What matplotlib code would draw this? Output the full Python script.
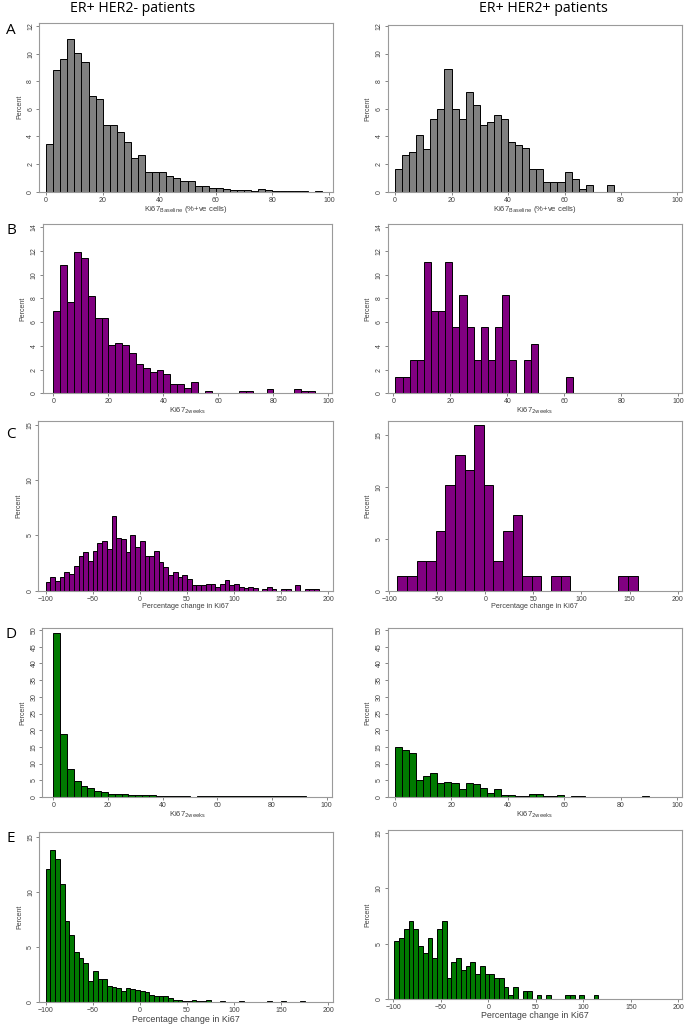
import numpy as np
import matplotlib
matplotlib.use("Agg")
import matplotlib.pyplot as plt

# ---------------- data (percent per bin) ----------------
# Panel A: Ki67 baseline, bins of width 2.5
A_left_start, A_left_width = 0.0, 2.5
A_left = [3.47, 8.8, 9.6, 11.03, 10.08, 9.4, 6.9, 6.74, 4.85, 4.85, 4.34, 3.6, 2.47, 2.64,
          1.43, 1.43, 1.41, 1.14, 1.02, 0.78, 0.78, 0.44, 0.39, 0.27, 0.27, 0.17, 0.12, 0.1,
          0.15, 0.05, 0.17, 0.12, 0.05, 0.05, 0.05, 0.05, 0.02, 0.0, 0.07, 0.0]
A_right_start, A_right_width = 0.0, 2.5
A_right = [1.65, 2.64, 2.88, 4.1, 3.1, 5.28, 6.01, 8.92, 6.01, 5.28, 7.25, 6.25, 4.8, 5.04,
           5.53, 5.28, 3.61, 3.37, 3.13, 1.65, 1.65, 0.68, 0.68, 0.68, 1.43, 0.95, 0.22, 0.46,
           0.0, 0.0, 0.46]

# Panel B: Ki67 at 2 weeks
B_left_start, B_left_width = 0.0, 2.5
B_left = [6.9, 10.8, 7.7, 11.95, 11.4, 8.2, 6.38, 6.38, 4.1, 4.27, 4.1, 3.42, 2.46, 2.12,
          1.78, 1.98, 1.61, 0.79, 0.79, 0.48, 0.99, 0.0, 0.17, 0.0, 0.0, 0.0, 0.0, 0.17, 0.17,
          0.0, 0.0, 0.33, 0.0, 0.0, 0.0, 0.33, 0.17, 0.17]
B_right_start, B_right_width = 0.7, 2.5
B_right = [1.39, 1.39, 2.78, 2.78, 11.11, 6.94, 6.94, 11.11, 5.56, 8.33, 5.56, 2.78, 5.56,
           2.78, 5.56, 8.33, 2.78, 0.0, 2.78, 4.17, 0.0, 0.0, 0.0, 0.0, 1.39]

# Panel C: percentage change in Ki67
C_left_start, C_left_width = -100.0, 5.0
C_left = [0.8, 1.2, 0.9, 1.2, 1.7, 1.5, 2.2, 3.1, 3.5, 2.7, 3.6, 4.3, 4.5, 3.8, 6.8, 4.8,
          4.7, 3.5, 5.0, 4.0, 4.5, 3.1, 3.1, 3.6, 2.6, 2.1, 1.4, 1.7, 1.2, 1.4, 1.05, 0.5,
          0.5, 0.5, 0.65, 0.65, 0.3, 0.65, 1.0, 0.5, 0.65, 0.35, 0.2, 0.35, 0.2, 0.0, 0.15,
          0.35, 0.15, 0.0, 0.15, 0.15, 0.0, 0.5, 0.0, 0.15, 0.15, 0.15]
C_right_start, C_right_width = -91.7, 10.0
C_right = [1.45, 1.45, 2.9, 2.9, 5.8, 10.14, 13.04, 11.59, 15.94, 10.14, 2.9, 5.8, 7.25,
           1.45, 1.45, 0.0, 1.45, 1.45, 0.0, 0.0, 0.0, 0.0, 0.0, 1.45, 1.45]

# Panel D: Ki67 at 2 weeks
D_left_start, D_left_width = 0.0, 2.5
D_left = [49.2, 18.9, 8.4, 4.9, 3.4, 2.6, 1.8, 1.6, 1.0, 0.8, 0.8, 0.7, 0.6, 0.5, 0.5,
          0.15, 0.15, 0.15, 0.15, 0.15, 0.1, 0.2, 0.15, 0.15, 0.15, 0.3, 0.15, 0.15, 0.15,
          0.15, 0.15, 0.15, 0.15, 0.15, 0.15, 0.15, 0.15, 0.1]
D_right_start, D_right_width = 0.0, 2.5
D_right = [15.0, 14.2, 13.2, 5.0, 6.4, 7.1, 4.3, 4.6, 4.3, 2.5, 4.3, 3.9, 2.8, 1.3, 2.5,
           0.7, 0.7, 0.35, 0.35, 0.9, 0.9, 0.35, 0.35, 0.7, 0.0, 0.35, 0.35, 0.0, 0.0, 0.0,
           0.0, 0.0, 0.0, 0.0, 0.0, 0.35]

# Panel E: percentage change in Ki67
E_left_start, E_left_width = -100.0, 5.0
E_left = [12.1, 13.8, 13.0, 10.7, 7.35, 6.1, 4.6, 4.0, 3.55, 1.9, 2.8, 2.1, 2.15, 1.45,
          1.4, 1.3, 1.0, 1.3, 1.2, 1.15, 1.0, 0.95, 0.7, 0.57, 0.6, 0.57, 0.35, 0.2, 0.25,
          0.12, 0.12, 0.2, 0.12, 0.15, 0.2, 0.07, 0.07, 0.1, 0.07, 0.07, 0.07, 0.15, 0.07,
          0.07, 0.05, 0.05, 0.07, 0.1, 0.05, 0.05, 0.1, 0.05, 0.05, 0.05, 0.1, 0.05, 0.05]
E_right_start, E_right_width = -99.0, 5.0
E_right = [5.2, 5.55, 6.3, 7.05, 6.3, 4.8, 4.1, 5.55, 3.7, 6.3, 7.05, 1.85, 3.35, 3.7, 2.6,
           2.95, 3.35, 2.2, 2.95, 2.2, 2.2, 1.85, 1.85, 1.1, 0.37, 1.1, 0.0, 0.74, 0.74, 0.0,
           0.37, 0.0, 0.37, 0.0, 0.0, 0.0, 0.37, 0.37, 0.0, 0.37, 0.0, 0.0, 0.37]

col_titles = ["ER+ HER2- patients", "ER+ HER2+ patients"]
panel_letters = ["A", "B", "C", "D", "E"]
xlabel_base = r"Ki67$_{\mathrm{Baseline}}$ (%+ve cells)"
xlabel_2w = r"Ki67$_{\mathrm{2weeks}}$"
xlabel_pct = "Percentage change in Ki67"

# ---------------- figure ----------------
W, H = 685, 1025
fig = plt.figure(figsize=(W / 100, H / 100), dpi=100)
fig.patch.set_facecolor("white")

TICKFONT = "Liberation Sans"
GREY, PURPLE, GREEN = "#808080", "#800080", "#007a00"


def px_axes(l, t, r, b):
    return fig.add_axes([l / W, 1 - b / H, (r - l) / W, (b - t) / H])


def hist_panel(box, start, width, vals, color, xlim, ylim, yticks, xticks, xlabel,
               xlabel_size=5.5):
    ax = px_axes(*box)
    vals = np.asarray(vals, dtype=float)
    edges = start + width * np.arange(len(vals))
    ax.bar(edges, vals, width=width, align="edge", color=color,
           edgecolor="black", linewidth=0.7, zorder=2)
    ax.set_xlim(*xlim)
    ax.set_ylim(*ylim)
    ax.set_yticks(yticks)
    ax.set_xticks(xticks)
    for s in ax.spines.values():
        s.set_color("#9a9a9a")
        s.set_linewidth(0.8)
    ax.tick_params(axis="both", length=2, width=0.6, color="#707070",
                   labelsize=5, labelcolor="#404040", pad=1.5)
    ax.tick_params(axis="y", labelrotation=90)
    for lab in ax.get_yticklabels():
        lab.set_va("center")
        lab.set_family(TICKFONT)
    for lab in ax.get_xticklabels():
        lab.set_family(TICKFONT)
    ax.set_ylabel("Percent", fontsize=5, family=TICKFONT, color="#404040", labelpad=3)
    ax.set_xlabel(xlabel, fontsize=xlabel_size, family=TICKFONT, color="#404040", labelpad=0.5)
    return ax


x100 = [0, 20, 40, 60, 80, 100]
x200 = [-100, -50, 0, 50, 100, 150, 200]

# Row A
hist_panel((39, 22.7, 333.3, 191.7), A_left_start, A_left_width, A_left, GREY,
           (-2.5, 101.5), (0, 12.24), range(0, 13, 2), x100, xlabel_base)
hist_panel((387.7, 25, 682, 191.7), A_right_start, A_right_width, A_right, GREY,
           (-2.6, 101.6), (0, 12.07), range(0, 13, 2), x100, xlabel_base)
# Row B
hist_panel((42.7, 224, 331.7, 393.3), B_left_start, B_left_width, B_left, PURPLE,
           (-3.9, 101.2), (0, 14.28), range(0, 15, 2), x100, xlabel_2w)
hist_panel((387.7, 224, 682, 393.3), B_right_start, B_right_width, B_right, PURPLE,
           (-2.0, 101.3), (0, 14.28), range(0, 15, 2), x100, xlabel_2w)
# Row C
hist_panel((38.3, 421, 333.3, 590.7), C_left_start, C_left_width, C_left, PURPLE,
           (-107.8, 205.3), (0, 15.36), [0, 5, 10, 15], x200, xlabel_pct, 5.2)
hist_panel((387.7, 421, 682, 590.7), C_right_start, C_right_width, C_right, PURPLE,
           (-101.7, 204.6), (0, 16.35), [0, 5, 10, 15], x200, xlabel_pct, 5.2)
# Row D
hist_panel((42.3, 627.7, 332.3, 797), D_left_start, D_left_width, D_left, GREEN,
           (-4.0, 102.1), (0, 50.7), range(0, 51, 5), x100, xlabel_2w)
hist_panel((387.7, 627.7, 682, 797), D_right_start, D_right_width, D_right, GREEN,
           (-2.6, 101.7), (0, 50.7), range(0, 51, 5), x100, xlabel_2w)
# Row E
hist_panel((39, 831.7, 333.3, 1002.3), E_left_start, E_left_width, E_left, GREEN,
           (-107.1, 205.3), (0, 15.45), [0, 5, 10, 15], x200, xlabel_pct, 6.4)
hist_panel((387.7, 830, 682, 998.7), E_right_start, E_right_width, E_right, GREEN,
           (-105.9, 203.9), (0, 15.3), [0, 5, 10, 15], x200, xlabel_pct, 6.4)

# Column titles
fig.text(133 / W, 1 - 8.5 / H, col_titles[0], ha="center", va="center",
         fontsize=10.2, family="Open Sans")
fig.text(543 / W, 1 - 8.5 / H, col_titles[1], ha="center", va="center",
         fontsize=10.2, family="Open Sans")

# Panel letters
letter_y = [31, 230, 435, 635, 838]
for letter, y in zip(panel_letters, letter_y):
    fig.text(11 / W, 1 - y / H, letter, ha="center", va="center",
             fontsize=11, family="Open Sans")

fig.savefig("out.png", dpi=100, facecolor="white")
